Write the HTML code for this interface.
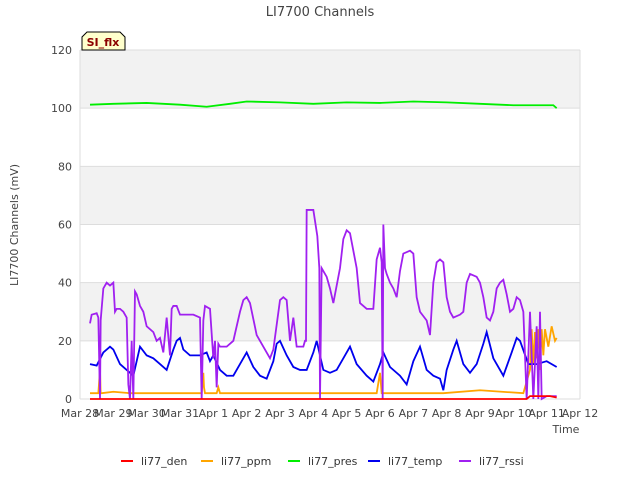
<!DOCTYPE html>
<html><head><meta charset="utf-8"><style>
body{margin:0;background:#fff;font-family:"Liberation Sans","DejaVu Sans",sans-serif}
text{font-family:"DejaVu Sans","Liberation Sans",sans-serif}
</style></head><body>
<svg id="c" width="640" height="480" xmlns="http://www.w3.org/2000/svg">
<text x="320" y="16" text-anchor="middle" font-size="13" fill="#444">LI7700 Channels</text>
<text transform="translate(18,225) rotate(-90)" text-anchor="middle" font-size="11" fill="#444">LI7700 Channels (mV)</text>
<text x="566" y="433" text-anchor="middle" font-size="11" fill="#444">Time</text>
<g id="bands"></g><g id="grid"></g><g id="ticks"></g><g id="series"></g>
<g>
<path d="M82,50 L82,37 L87,32 L120,32 L125,37 L125,50 Z" fill="#ffffcc" stroke="#000" stroke-width="1"/>
<text x="103" y="46" text-anchor="middle" font-size="11" font-weight="bold" fill="#8b0000">SI_flx</text></g>
<g id="legend"></g>
</svg>
<script>
const xTickLabels=["Mar 28","Mar 29","Mar 30","Mar 31","Apr 1","Apr 2","Apr 3","Apr 4","Apr 5","Apr 6","Apr 7","Apr 8","Apr 9","Apr 10","Apr 11","Apr 12"];
const yTicks=[0,20,40,60,80,100,120];
const rssiT=[0.3,0.35,0.5,0.55,0.6,0.62,0.7,0.8,0.9,1.0,1.05,1.1,1.2,1.3,1.4,1.45,1.5,1.55,1.6,1.65,1.7,1.8,1.9,2.0,2.2,2.3,2.4,2.5,2.6,2.7,2.75,2.8,2.9,3.0,3.2,3.4,3.6,3.65,3.7,3.75,3.9,4.0,4.05,4.1,4.15,4.2,4.4,4.6,4.8,4.9,5.0,5.1,5.3,5.5,5.7,5.8,6.0,6.1,6.2,6.3,6.4,6.5,6.7,6.75,6.78,6.8,7.0,7.12,7.18,7.2,7.25,7.4,7.5,7.6,7.8,7.9,8.0,8.1,8.3,8.4,8.6,8.8,8.9,9.0,9.05,9.08,9.1,9.15,9.2,9.3,9.4,9.5,9.6,9.7,9.9,10.0,10.1,10.2,10.4,10.5,10.6,10.7,10.8,10.9,11.0,11.1,11.2,11.4,11.5,11.6,11.7,11.9,12.0,12.1,12.2,12.3,12.4,12.5,12.6,12.7,12.8,12.9,13.0,13.1,13.2,13.3,13.4,13.5,13.6,13.7,13.75,13.8,13.85,14.0,14.3];
const rssiV=[26,29,29.5,28,0,27,38,40,39,40,30,31,31,30,28,5,0,20,0,37,36,32,30,25,23,20,21,16,28,15,31,32,32,29,29,29,28,0,27,32,31,14,20,4,19,18,18,20,30,34,35,33,22,18,14,17,34,35,34,20,28,18,18,20,20,65,65,56,45,0,45,42,38,33,45,55,58,57,45,33,31,31,48,52,47,0,60,45,43,40,38,35,44,50,51,50,35,30,27,22,40,47,48,47,35,30,28,29,30,40,43,42,40,35,28,27,30,38,40,41,36,30,31,35,34,30,0,30,0,25,0,30,0,1,1];
const tempT=[0.3,0.5,0.7,0.9,1.0,1.2,1.4,1.6,1.7,1.8,2.0,2.2,2.4,2.6,2.8,2.9,3.0,3.1,3.3,3.6,3.8,3.9,4.0,4.2,4.4,4.6,4.8,5.0,5.2,5.4,5.6,5.8,5.9,6.0,6.2,6.4,6.6,6.8,7.0,7.1,7.3,7.5,7.7,7.9,8.1,8.3,8.6,8.8,9.0,9.1,9.3,9.6,9.8,10.0,10.2,10.4,10.6,10.8,10.9,11.0,11.2,11.3,11.5,11.7,11.9,12.1,12.2,12.4,12.7,12.95,13.1,13.2,13.45,13.7,14.0,14.3];
const tempV=[12,11.5,16,18,17,12,10,8,13,18,15,14,12,10,17,20,21,17,15,15,16,13,15,10,8,8,12,16,11,8,7,13,19,20,15,11,10,10,16,20,10,9,10,14,18,12,8,6,12,16,11,8,5,13,18,10,8,7,3,10,17,20,12,9,12,19,23,14,8,16,21,20,12,12,13,11];
const presT=[0.3,1,2,3,3.8,4.5,5,6,7,8,9,10,11,12,13,14.2,14.3];
const presV=[101.2,101.5,101.8,101.2,100.5,101.5,102.3,102,101.5,102,101.8,102.3,102,101.5,101,101,100];
const ppmT=[0.3,0.55,0.6,0.62,0.65,1.0,1.5,3.65,3.7,3.72,3.75,4.1,4.15,4.2,7.2,8.9,9.0,9.05,10.9,12.0,13.3,13.5,13.55,13.6,13.65,13.7,13.75,13.8,13.85,13.9,13.95,14.05,14.15,14.25,14.3];
const ppmV=[2,2,10,2,2,2.5,2,2,9,4,2,2,4,2,2,2,9,2,2,3,2,10,24,12,23,14,24,10,24,15,24,18,25,20,21];
const denT=[0.3,13.4,13.5,13.8,14.1,14.3];
const denV=[0,0,1,1,1,0.5];
const X0=80,X1=580,Y0=399,Y1=50;
const xs=d=>X0+d*(X1-X0)/15, ys=v=>Y0-v*(Y0-Y1)/120;
const NS="http://www.w3.org/2000/svg";
function mk(tag,attrs,parent){const e=document.createElementNS(NS,tag);for(const k in attrs)e.setAttribute(k,attrs[k]);document.getElementById(parent).appendChild(e);return e;}
for(let i=0;i<6;i++){const r=mk('rect',{x:X0,y:ys((i+1)*20),width:X1-X0,height:ys(0)-ys(20),fill:i%2===0?'#ffffff':'#f2f2f2'},'bands');
}
yTicks.forEach(v=>{const l=mk('line',{x1:X0,x2:X1,y1:ys(v),y2:ys(v),stroke:'#dddddd'},'grid');

const t=mk('text',{x:X0-8,y:ys(v)+4,'text-anchor':'end','font-size':11,fill:'#444'},'ticks');t.textContent=v;
});
mk('line',{x1:X1,x2:X1,y1:Y1,y2:Y0,stroke:'#dddddd'},'grid');
mk('line',{x1:X0,x2:X0,y1:Y1,y2:Y0,stroke:'#dddddd'},'grid');
xTickLabels.forEach((s,i)=>{const t=mk('text',{x:xs(i),y:Y0+18,'text-anchor':'middle','font-size':11,fill:'#444'},'ticks');t.textContent=s;
});
const series=[["li77_den",denT,denV,"#ff0000"],["li77_ppm",ppmT,ppmV,"#ffa500"],["li77_pres",presT,presV,"#00ee00"],["li77_temp",tempT,tempV,"#0000ee"],["li77_rssi",rssiT,rssiV,"#a020f0"]];
const order=[1,2,3,4,0];
order.forEach(i=>{const [n,T,V,c]=series[i];const p=mk('polyline',{points:T.map((t,j)=>xs(t)+','+ys(V[j])).join(' '),fill:'none',stroke:c,'stroke-width':1.8},'series');
});
const lx=[121,201,288,368,459];
series.forEach(([n,T,V,c],i)=>{const g=mk('g',{},'legend');
const l=document.createElementNS(NS,'line');l.setAttribute('x1',lx[i]);l.setAttribute('x2',lx[i]+12);l.setAttribute('y1',461);l.setAttribute('y2',461);l.setAttribute('stroke',c);l.setAttribute('stroke-width',2);g.appendChild(l);
const t=document.createElementNS(NS,'text');t.setAttribute('x',lx[i]+20);t.setAttribute('y',465);t.setAttribute('font-size',11);t.setAttribute('fill','#333');t.textContent=n;g.appendChild(t);});
</script>
</body></html>
